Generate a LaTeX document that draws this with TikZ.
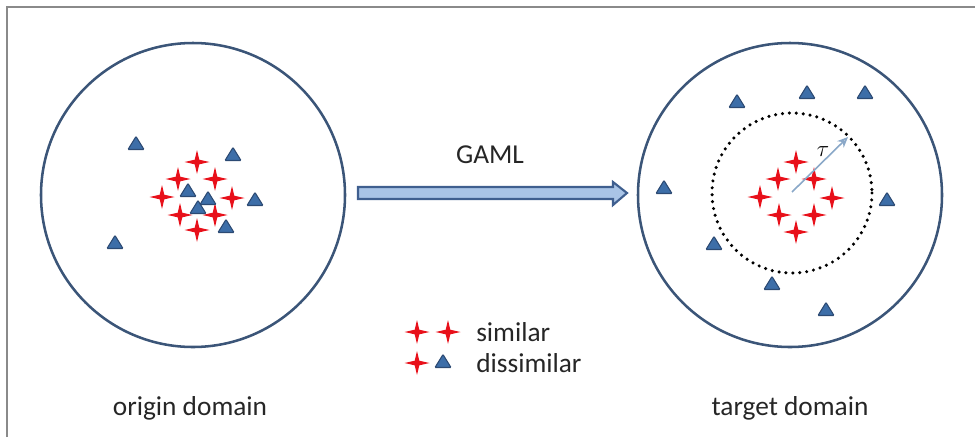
\documentclass[tikz,border=0pt]{standalone}
\usepackage{fontspec}
\setmainfont{Carlito}
\usetikzlibrary{arrows.meta}
\definecolor{ringblue}{HTML}{3B5578}
\definecolor{trifill}{HTML}{3D6EA8}
\definecolor{triedge}{HTML}{2C4A73}
\definecolor{starred}{HTML}{E8101A}
\definecolor{arrowfill}{HTML}{A9C4E6}
\definecolor{arrowedge}{HTML}{3F5F8F}
\definecolor{tauarrow}{HTML}{8AA8C8}
\definecolor{framegray}{HTML}{8A8A8A}
\tikzset{
  ring/.style={draw=ringblue, line width=1.9pt},
  lbl/.style={font=\fontsize{20.5}{24}\selectfont, text=black!85, inner sep=0pt},
  starmark/.pic={\fill[starred] (0,-12) -- (2.3,-2.3) -- (12.5,0) -- (2.3,2.3) -- (0,12) -- (-2.3,2.3) -- (-12.5,0) -- (-2.3,-2.3) -- cycle;},
  trimark/.pic={\filldraw[fill=trifill, draw=triedge, line width=0.8pt, rounded corners=0.6pt] (-8,5.5) -- (8,5.5) -- (0,-7.5) -- cycle;}
}
\begin{document}
\begin{tikzpicture}[x=0.75pt, y=-0.75pt]
\useasboundingbox (0,0) rectangle (975,437);
% frame
\draw[framegray, line width=1.6pt] (7,437) -- (7,7) -- (975,7);
% domain circles
\coordinate (origin) at (193,195);
\coordinate (target) at (790,195);
\draw[ring] (origin) circle[radius=152];
\draw[ring] (target) circle[radius=152];
% GAML arrow
\filldraw[fill=arrowfill, draw=arrowedge, line width=1.6pt, line join=miter]
  (358,187) -- (613,187) -- (613,182) -- (627,193) -- (613,205) -- (613,199) -- (358,199) -- cycle;
\node[lbl] (gaml) at (490,155) {GAML};
% origin cluster
\foreach \p in {(197,162),(178,179),(215,179),(162,197),(232,198),(180,215),(215,215),(197,230)}
  \pic at \p {starmark};
\foreach \p in {(136,144),(233,155),(188,191),(208,199),(198,208),(255,200),(226,227),(115,243)}
  \pic at \p {trimark};
% target domain
\draw[black, line width=2.6pt, line cap=round, dash pattern=on 0pt off 5.2pt] (792,193) circle[radius=80];
\foreach \p in {(796,162),(778,179),(814,179),(760,197),(832,198),(779,215),(814,215),(796,232)}
  \pic at \p {starmark};
\foreach \p in {(737,102),(807,93),(865,93),(664,188),(887,200),(714,244),(772,284),(826,310)}
  \pic at \p {trimark};
\coordinate (tc) at (792,192);
\coordinate (tr) at (848,137);
\draw[tauarrow, line width=1.2pt, -{Stealth[length=8pt, width=7pt, open]}] (tc) -- (tr);
\node[inner sep=0pt, font=\fontsize{19}{22}\selectfont] (tau) at (823,152) {$\tau$};
% legend
\pic at (417,332) {starmark};
\pic at (448,332) {starmark};
\pic at (417,363) {starmark};
\pic at (443,362) {trimark};
\node[lbl, anchor=west] (sim) at (476,332) {similar};
\node[lbl, anchor=west] (dis) at (476,363) {dissimilar};
% captions
\node[lbl] (ocap) at (190,408) {origin domain};
\node[lbl] (tcap) at (790,408) {target domain};
\end{tikzpicture}
\end{document}
